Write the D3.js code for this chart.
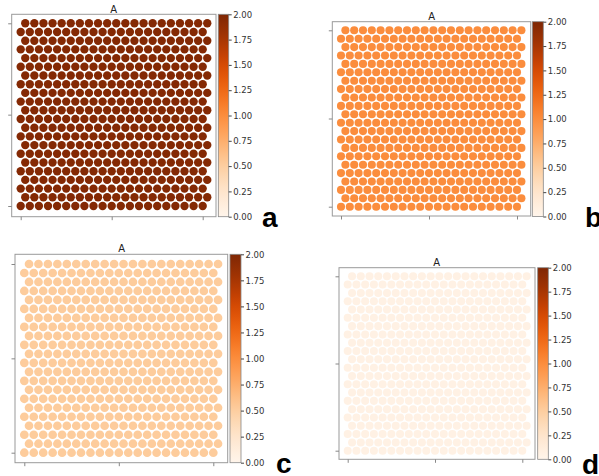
<!DOCTYPE html>
<html>
<head>
<meta charset="utf-8">
<script src="https://cdn.jsdelivr.net/npm/d3@7"></script>
<style>
  body { margin: 0; background: #fff; }
  text { font-family: "DejaVu Sans", sans-serif; }
</style>
</head>
<body>
<div id="chart"></div>
<script>
// data
const panelLetters = ["a", "b", "c", "d"];
const panelTitles = ["A", "A", "A", "A"];
const panelValues = [1.97, 1.0, 0.52, 0.06];   // uniform value of each lattice
const nCols = 21;
const nRows = 22;
const cbarDomain = [0, 2];
const cbarTicks = [0, 0.25, 0.5, 0.75, 1.0, 1.25, 1.5, 1.75, 2.0];

// pixel boxes per panel
const layouts = [
    { frame: [11.7, 14.3, 216, 216.7], dots: [20.7, 23.3, 202.7, 206], cbar: [218.3, 14.3, 228.7, 216.7], title: [113.7, 12.5], letter: [262, 227] },
    { frame: [332.3, 21.7, 530.7, 216], dots: [341, 30.3, 517, 206.7], cbar: [532.3, 21.7, 543.3, 216.5], title: [431.7, 19.5], letter: [585, 226.5] },
    { frame: [15, 254.3, 227.7, 462.7], dots: [24.3, 264, 213.3, 452.7], cbar: [230, 254.3, 241, 462.7], title: [121.7, 252], letter: [276, 473] },
    { frame: [339, 267.7, 535, 459.3], dots: [347.7, 276.3, 522.3, 450.7], cbar: [537.7, 267.7, 548.3, 459.3], title: [436.7, 265.5], letter: [582, 474] }
];

const W = 599, H = 476;
const color = d3.scaleSequential(d3.interpolateOranges).domain(cbarDomain);

const svg = d3.select("#chart")
    .append("svg")
    .attr("width", W)
    .attr("height", H);

// shared gradient for the colorbars
const grad = svg.append("defs").append("linearGradient")
    .attr("id", "cbarGrad")
    .attr("x1", 0).attr("y1", 1).attr("x2", 0).attr("y2", 0);
d3.range(0, 1.0001, 0.05).forEach(t => {
    grad.append("stop")
        .attr("offset", t)
        .attr("stop-color", d3.interpolateOranges(t));
});

// lattice points: row 0 is the top row, even rows shifted half a column right
const lattice = [];
for (let r = 0; r < nRows; r++) {
    for (let c = 0; c < nCols; c++) {
        lattice.push({ col: c + (r % 2 === 0 ? 0.5 : 0), row: r });
    }
}

layouts.forEach((lay, i) => {
    const g = svg.append("g");
    const [fx0, fy0, fx1, fy1] = lay.frame;
    const [dx0, dy0, dx1, dy1] = lay.dots;

    const x = d3.scaleLinear().domain([0, nCols - 1]).range([dx0, dx1]);
    const y = d3.scaleLinear().domain([0, nRows - 1]).range([dy0, dy1]);
    const r = (x(1) - x(0)) * 0.46;

    // frame
    g.append("rect")
        .attr("x", fx0).attr("y", fy0)
        .attr("width", fx1 - fx0).attr("height", fy1 - fy0)
        .attr("fill", "none")
        .attr("stroke", "#9a9a9a")
        .attr("stroke-width", 1);

    // points
    g.selectAll("circle")
        .data(lattice)
        .enter()
        .append("circle")
        .attr("cx", d => x(d.col))
        .attr("cy", d => y(d.row))
        .attr("r", r)
        .attr("fill", color(panelValues[i]));

    // axis ticks without labels
    const xAxis = g.append("g")
        .attr("transform", `translate(0,${fy1})`)
        .call(d3.axisBottom(x).tickValues([0, 10, 20]).tickFormat("").tickSize(3.5));
    const yAxis = g.append("g")
        .attr("transform", `translate(${fx0},0)`)
        .call(d3.axisLeft(y).tickValues([0, (nRows - 1) / 2, nRows - 1]).tickFormat("").tickSize(3.5));
    [xAxis, yAxis].forEach(a => {
        a.select(".domain").remove();
        a.selectAll("line").attr("stroke", "#888");
    });

    // title
    g.append("text")
        .attr("x", lay.title[0])
        .attr("y", lay.title[1])
        .attr("text-anchor", "middle")
        .style("font-size", "10px")
        .attr("fill", "#222")
        .text(panelTitles[i]);

    // colorbar
    const [cx0, cy0, cx1, cy1] = lay.cbar;
    g.append("rect")
        .attr("x", cx0).attr("y", cy0)
        .attr("width", cx1 - cx0).attr("height", cy1 - cy0)
        .attr("fill", "url(#cbarGrad)")
        .attr("stroke", "#888")
        .attr("stroke-width", 0.8);

    const cy = d3.scaleLinear().domain(cbarDomain).range([cy1, cy0]);
    const cAxis = g.append("g")
        .attr("transform", `translate(${cx1},0)`)
        .call(d3.axisRight(cy).tickValues(cbarTicks).tickFormat(d3.format(".2f")).tickSize(3).tickPadding(1.5));
    cAxis.select(".domain").remove();
    cAxis.selectAll("line").attr("stroke", "#444");
    cAxis.selectAll("text")
        .style("font-family", "DejaVu Sans, sans-serif")
        .style("font-size", "8.5px")
        .attr("fill", "#333");

    // panel letter
    g.append("text")
        .attr("x", lay.letter[0])
        .attr("y", lay.letter[1])
        .style("font-family", "Liberation Sans, Arial, sans-serif")
        .style("font-weight", "bold")
        .style("font-size", "28px")
        .attr("fill", "#000")
        .text(panelLetters[i]);
});
</script>
</body>
</html>
